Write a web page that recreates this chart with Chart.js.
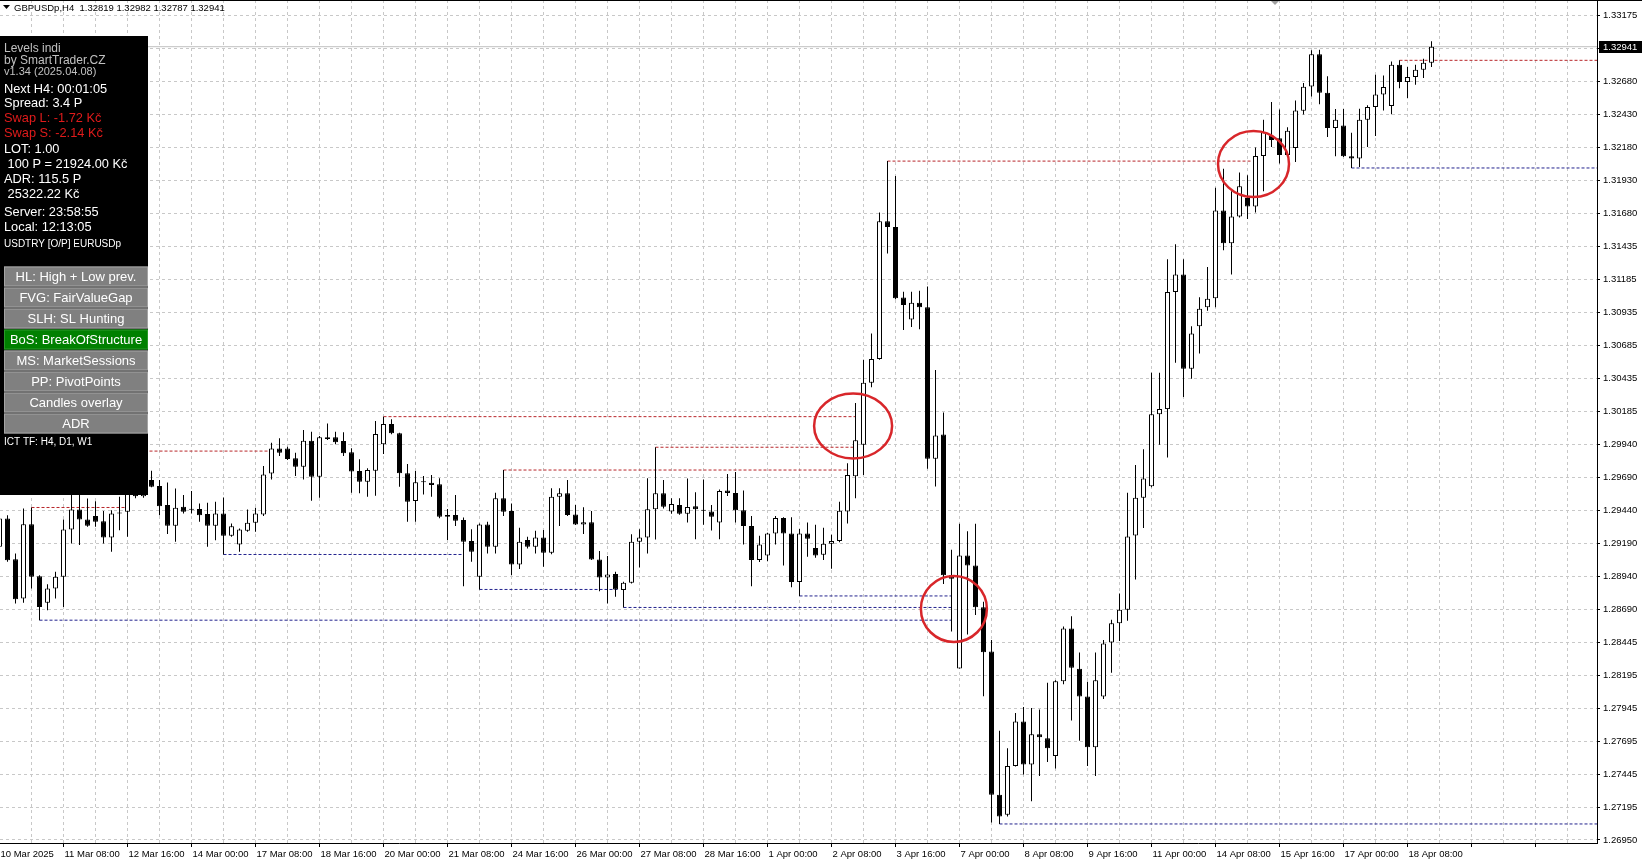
<!DOCTYPE html>
<html>
<head>
<meta charset="utf-8">
<script src="https://cdn.jsdelivr.net/npm/chart.js@4.4.1/dist/chart.umd.min.js"></script>
<style>
html, body { margin: 0; padding: 0; background: #fff; overflow: hidden; }
canvas { display: block; }
</style>
</head>
<body>
<canvas id="chartCandles" width="1642" height="865"></canvas>
<script>
var title = 'GBPUSDp,H4  1.32819 1.32982 1.32787 1.32941';

// labels of the time axis, one every 8 bars
var xLabels = ['10 Mar 2025', '11 Mar 08:00', '12 Mar 16:00', '14 Mar 00:00', '17 Mar 08:00', '18 Mar 16:00',
    '20 Mar 00:00', '21 Mar 08:00', '24 Mar 16:00', '26 Mar 00:00', '27 Mar 08:00', '28 Mar 16:00',
    '1 Apr 00:00', '2 Apr 08:00', '3 Apr 16:00', '7 Apr 00:00', '8 Apr 08:00', '9 Apr 16:00',
    '11 Apr 00:00', '14 Apr 08:00', '15 Apr 16:00', '17 Apr 00:00', '18 Apr 08:00'];

// price axis labels
var yTicks = [1.33175, 1.32925, 1.32680, 1.32430, 1.32180, 1.31930, 1.31680, 1.31435, 1.31185, 1.30935,
    1.30685, 1.30435, 1.30185, 1.29940, 1.29690, 1.29440, 1.29190, 1.28940, 1.28690, 1.28445,
    1.28195, 1.27945, 1.27695, 1.27445, 1.27195, 1.26950];

// H4 candles, 10 Mar 00:00 .. 18 Apr 20:00
var opens = [
    1.29164,1.29378,1.29071,1.28773,1.29335,1.28942,1.28741,1.28849,1.28937,1.29295,
    1.29446,1.29371,1.29396,1.29358,1.29235,1.29424,1.29429,1.29600,1.29545,1.29668,
    1.29623,1.29479,1.29323,1.29466,1.29446,1.29449,1.29411,1.29323,1.29416,1.29247,
    1.29182,1.29285,1.29345,1.29408,1.29718,1.29907,1.29907,1.29832,1.29769,1.29965,
    1.29693,1.29991,1.29991,1.29963,1.29878,1.29737,1.29656,1.29739,1.29938,1.30092,
    1.30021,1.29719,1.29510,1.29653,1.29648,1.29636,1.29404,1.29404,1.29366,1.29207,
    1.28937,1.29333,1.29165,1.29530,1.29434,1.29031,1.29215,1.29165,1.29235,1.29119,
    1.29543,1.29568,1.29409,1.29333,1.29349,1.29069,1.28933,1.28958,1.28837,1.28892,
    1.29202,1.29235,1.29447,1.29568,1.29431,1.29480,1.29414,1.29470,1.29438,1.29431,
    1.29348,1.29590,1.29570,1.29441,1.29321,1.29065,1.29099,1.29265,1.29381,1.29265,
    1.28899,1.29265,1.29155,1.29105,1.29188,1.29208,1.29431,1.29696,1.29935,1.30403,
    1.30582,1.31622,1.31579,1.31047,1.30881,1.31008,1.30974,1.29829,1.30012,1.28949,
    1.28245,1.29099,1.29022,1.28707,1.28373,1.27292,1.27140,1.27509,1.27844,1.27520,
    1.27749,1.27718,1.27585,1.28149,1.28548,1.28244,1.28034,1.27650,1.28034,1.28442,
    1.28586,1.28689,1.29249,1.29534,1.29622,1.30166,1.30204,1.31088,1.31221,1.30509,
    1.30829,1.30973,1.31042,1.31704,1.31457,1.31659,1.31799,1.31735,1.32115,1.32268,
    1.32249,1.32123,1.32175,1.32458,1.32641,1.32883,1.32594,1.32327,1.32345,1.32113,
    1.32096,1.32390,1.32486,1.32579,1.32493,1.32805,1.32674,1.32712,1.32767,1.32819];
var highs = [
    1.29416,1.29403,1.29114,1.29454,1.29461,1.28950,1.28882,1.28975,1.29371,1.29567,
    1.29555,1.29529,1.29509,1.29434,1.29441,1.29542,1.29618,1.29700,1.29720,1.29739,
    1.29668,1.29650,1.29605,1.29555,1.29585,1.29492,1.29497,1.29504,1.29537,1.29340,
    1.29303,1.29446,1.29459,1.29774,1.29950,1.29983,1.29920,1.29875,1.30046,1.30033,
    1.30001,1.30096,1.30033,1.30029,1.29908,1.29825,1.29757,1.30115,1.30147,1.30127,
    1.30026,1.29790,1.29737,1.29699,1.29706,1.29681,1.29449,1.29555,1.29386,1.29296,
    1.29341,1.29354,1.29573,1.29744,1.29492,1.29308,1.29240,1.29286,1.29291,1.29606,
    1.29606,1.29669,1.29480,1.29462,1.29434,1.29132,1.29094,1.28976,1.28900,1.29258,
    1.29296,1.29681,1.29916,1.29669,1.29530,1.29530,1.29680,1.29576,1.29673,1.29480,
    1.29597,1.29713,1.29729,1.29590,1.29397,1.29248,1.29271,1.29397,1.29387,1.29387,
    1.29298,1.29348,1.29331,1.29308,1.29255,1.29504,1.29796,1.30251,1.30576,1.30775,
    1.31688,1.32077,1.31964,1.31091,1.31091,1.31097,1.31130,1.30500,1.30178,1.29142,
    1.29338,1.29281,1.29338,1.28750,1.28461,1.27775,1.27642,1.27909,1.27955,1.27947,
    1.27935,1.28137,1.28156,1.28563,1.28640,1.28365,1.28145,1.28365,1.28461,1.28613,
    1.28811,1.29572,1.29782,1.29900,1.30478,1.30478,1.31335,1.31449,1.31335,1.30829,
    1.31049,1.31278,1.31876,1.32020,1.31849,1.31990,1.31971,1.32180,1.32390,1.32523,
    1.32466,1.32332,1.32534,1.32667,1.32915,1.32918,1.32717,1.32470,1.32470,1.32292,
    1.32473,1.32498,1.32729,1.32724,1.32830,1.32838,1.32787,1.32805,1.32850,1.32982];
var lows = [
    1.29139,1.29051,1.28736,1.28741,1.28849,1.28610,1.28685,1.28773,1.28710,1.29189,
    1.29177,1.29315,1.29315,1.29189,1.29126,1.29290,1.29240,1.29530,1.29535,1.29613,
    1.29403,1.29260,1.29202,1.29416,1.29416,1.29353,1.29164,1.29214,1.29106,1.29240,
    1.29126,1.29277,1.29277,1.29396,1.29673,1.29850,1.29819,1.29698,1.29673,1.29512,
    1.29534,1.29971,1.29938,1.29850,1.29573,1.29568,1.29543,1.29550,1.29865,1.30014,
    1.29618,1.29354,1.29354,1.29560,1.29543,1.29379,1.29215,1.29321,1.28867,1.29051,
    1.28842,1.29114,1.29114,1.29396,1.28950,1.28996,1.29152,1.29114,1.29013,1.29107,
    1.29321,1.29396,1.29328,1.29260,1.29064,1.28829,1.28736,1.28787,1.28706,1.28887,
    1.29008,1.29114,1.29220,1.29454,1.29414,1.29407,1.29348,1.29221,1.29331,1.29288,
    1.29221,1.29547,1.29348,1.29182,1.28866,1.29049,1.29055,1.29182,1.29022,1.28858,
    1.28793,1.29089,1.29082,1.29065,1.28999,1.29198,1.29341,1.29530,1.29706,1.30370,
    1.30576,1.31380,1.31034,1.30802,1.30825,1.30808,1.29753,1.29620,1.28883,1.28524,
    1.28245,1.28501,1.28650,1.28036,1.27082,1.27071,1.27128,1.27505,1.27444,1.27243,
    1.27433,1.27539,1.27490,1.28126,1.27852,1.27699,1.27509,1.27433,1.28015,1.28213,
    1.28453,1.28605,1.28917,1.29306,1.29614,1.29934,1.29839,1.30555,1.30296,1.30433,
    1.30623,1.30947,1.30973,1.31404,1.31221,1.31651,1.31640,1.31689,1.31849,1.32184,
    1.32058,1.32108,1.32070,1.32428,1.32565,1.32506,1.32259,1.32113,1.32108,1.32025,
    1.32033,1.32184,1.32267,1.32460,1.32430,1.32628,1.32553,1.32654,1.32704,1.32787];
var closes = [
    1.29378,1.29063,1.28768,1.29335,1.28937,1.28710,1.28849,1.28937,1.29295,1.29446,
    1.29371,1.29323,1.29353,1.29235,1.29416,1.29416,1.29567,1.29545,1.29660,1.29618,
    1.29471,1.29323,1.29459,1.29429,1.29444,1.29403,1.29323,1.29416,1.29247,1.29320,
    1.29295,1.29345,1.29416,1.29711,1.29907,1.29875,1.29827,1.29769,1.29965,1.29693,
    1.29991,1.29978,1.29953,1.29870,1.29732,1.29656,1.29744,1.30016,1.30092,1.30021,
    1.29719,1.29505,1.29651,1.29651,1.29631,1.29391,1.29391,1.29361,1.29202,1.29127,
    1.29333,1.29165,1.29530,1.29429,1.29031,1.29202,1.29165,1.29235,1.29119,1.29543,
    1.29568,1.29404,1.29333,1.29349,1.29069,1.28933,1.28955,1.28842,1.28892,1.29202,
    1.29235,1.29447,1.29568,1.29467,1.29487,1.29414,1.29464,1.29447,1.29437,1.29391,
    1.29586,1.29570,1.29441,1.29321,1.29065,1.29182,1.29265,1.29381,1.29265,1.28899,
    1.29265,1.29225,1.29099,1.29188,1.29208,1.29437,1.29706,1.29968,1.30403,1.30582,
    1.31622,1.31579,1.31041,1.30991,1.31008,1.30974,1.29829,1.30005,1.28949,1.28923,
    1.29099,1.29022,1.28707,1.28368,1.27292,1.27128,1.27509,1.27844,1.27520,1.27749,
    1.27726,1.27642,1.28149,1.28548,1.28251,1.28034,1.27650,1.28156,1.28434,1.28586,
    1.28689,1.29241,1.29534,1.29679,1.30166,1.30204,1.31088,1.31221,1.30509,1.30775,
    1.30962,1.31038,1.31704,1.31457,1.31659,1.31887,1.31735,1.32115,1.32294,1.32237,
    1.32123,1.32306,1.32459,1.32638,1.32884,1.32594,1.32327,1.32390,1.32113,1.32096,
    1.32390,1.32486,1.32579,1.32636,1.32805,1.32674,1.32712,1.32767,1.32819,1.32941];

// BoS levels (price, first bar, last bar, kind)
var levelPrices = [1.29461, 1.29887, 1.30147, 1.29744, 1.29916, 1.32077, 1.32838,
    1.28610, 1.29106, 1.28706, 1.28842, 1.28793, 1.27071, 1.32025];
var levelFrom = [4, 10, 48, 63, 82, 111, 175, 5, 28, 78, 60, 100, 125, 169];
var levelTo = [16, 33.5, 107, 106, 107, 156.5, 200, 119, 58, 119, 77.4, 119, 200, 200];
var levelKinds = ['high', 'high', 'high', 'high', 'high', 'high', 'high',
    'low', 'low', 'low', 'low', 'low', 'low', 'low'];

// red marks drawn by hand on the screenshot (bar, price)
var markBars = [106.7, 119.3, 156.75];
var markPrices = [1.30077, 1.28695, 1.32055];

var panelLines = ['Levels indi', 'by SmartTrader.CZ', 'v1.34 (2025.04.08)', 'Next H4: 00:01:05', 'Spread: 3.4 P',
    'Swap L: -1.72 Kč', 'Swap S: -2.14 Kč', 'LOT: 1.00', ' 100 P = 21924.00 Kč', 'ADR: 115.5 P',
    ' 25322.22 Kč', 'Server: 23:58:55', 'Local: 12:13:05', 'USDTRY [O/P] EURUSDp'];
var panelButtons = ['HL: High + Low prev.', 'FVG: FairValueGap', 'SLH: SL Hunting', 'BoS: BreakOfStructure',
    'MS: MarketSessions', 'PP: PivotPoints', 'Candles overlay', 'ADR'];
var panelFooter = 'ICT TF: H4, D1, W1';

var AXISFONT = '"Liberation Sans", Arial, sans-serif';
var ARIAL = '"Liberation Sans", Arial, sans-serif';
var xMin = 0.0625, xMax = 199.6875;
var lastClose = closes[closes.length - 1];

function makeit() {
    var bodies = [], wicks = [], fills = [];
    opens.forEach(function(o, i) {
        bodies.push({x: i, y: [o, closes[i]]});
        wicks.push({x: i, y: [lows[i], highs[i]]});
        fills.push(closes[i] >= o ? '#ffffff' : '#000000');
    });

    var datasets = [{
        type: 'bar', data: bodies, backgroundColor: fills, borderColor: '#000000', borderWidth: 1,
        borderSkipped: false, barThickness: 5, grouped: false, minBarLength: 1, inflateAmount: 0, order: 0
    }, {
        type: 'bar', data: wicks, backgroundColor: '#000000', borderWidth: 0,
        barThickness: 1, grouped: false, inflateAmount: 0, order: 1
    }, {
        type: 'line', data: [{x: xMin, y: lastClose}, {x: xMax, y: lastClose}],
        borderColor: '#c0c0c0', borderWidth: 1, pointRadius: 0, order: 3
    }];
    levelPrices.forEach(function(p, i) {
        datasets.push({
            type: 'line',
            data: [{x: levelFrom[i], y: p}, {x: Math.min(levelTo[i], xMax), y: p}],
            borderColor: levelKinds[i] == 'high' ? '#b8262a' : '#22228e',
            borderWidth: 1, borderDash: [3, 2], pointRadius: 0, order: 2
        });
    });

    var gridBars = [];
    for (var b = 0; b <= 196; b += 4) gridBars.push(b);

    var overlay = {
        id: 'overlay',
        afterDatasetsDraw: function(chart) {
            var ctx = chart.ctx, sx = chart.scales.x, sy = chart.scales.y;
            var rx = [39, 33, 35.5], ry = [32.5, 33, 33];
            ctx.save();
            ctx.strokeStyle = '#d8262a';
            ctx.lineWidth = 2.5;
            markBars.forEach(function(mb, i) {
                ctx.beginPath();
                ctx.ellipse(sx.getPixelForValue(mb), sy.getPixelForValue(markPrices[i]), rx[i], ry[i], 0, 0, Math.PI * 2);
                ctx.stroke();
            });
            ctx.restore();
        },
        afterDraw: function(chart) {
            var ctx = chart.ctx, sy = chart.scales.y;
            ctx.save();
            // top frame and shift marker
            ctx.fillStyle = '#000';
            ctx.fillRect(0, 0, 1642, 1);
            ctx.fillStyle = '#a0a0a0';
            ctx.beginPath(); ctx.moveTo(1271, 1); ctx.lineTo(1279, 1); ctx.lineTo(1275, 5); ctx.fill();

            // title
            ctx.fillStyle = '#000';
            ctx.beginPath(); ctx.moveTo(3, 5); ctx.lineTo(10, 5); ctx.lineTo(6.5, 9); ctx.fill();
            ctx.font = '9.5px ' + AXISFONT;
            ctx.textBaseline = 'middle';
            ctx.textAlign = 'left';
            ctx.fillText(title, 14, 8.5);

            // current price box
            var py = sy.getPixelForValue(lastClose);
            ctx.fillStyle = '#000';
            ctx.fillRect(1599, Math.round(py) - 6, 43, 12);
            ctx.fillStyle = '#fff';
            ctx.fillText(lastClose.toFixed(5), 1603, Math.round(py) + 0.5);

            // info panel
            ctx.fillStyle = '#000';
            ctx.fillRect(0, 36, 148, 459);
            var ys = [48.7, 60.8, 71.7, 89.7, 103.8, 118.8, 133.8, 149, 164, 179, 194, 212, 227.7, 244.5];
            panelLines.forEach(function(t, i) {
                var size = i < 2 ? 12 : (i == 2 ? 11 : (i == 13 ? 10 : 12.8));
                ctx.font = size + 'px ' + ARIAL;
                ctx.fillStyle = i < 3 ? '#c0c0c0' : (i == 5 || i == 6 ? '#e01b1b' : '#ffffff');
                ctx.fillText(t, 4, ys[i]);
            });
            panelButtons.forEach(function(t, i) {
                var top = 266.5 + 21 * i;
                ctx.fillStyle = i == 3 ? '#008000' : '#808080';
                ctx.fillRect(4, top, 144, 20);
                ctx.strokeStyle = i == 3 ? '#2a9a2a' : '#a4a4a4';
                ctx.lineWidth = 1;
                ctx.strokeRect(4.5, top + 0.5, 143, 19);
                ctx.fillStyle = '#fff';
                ctx.font = '13px ' + ARIAL;
                ctx.textAlign = 'center';
                ctx.fillText(t, 76, top + 10.5);
                ctx.textAlign = 'left';
            });
            ctx.font = '10px ' + ARIAL;
            ctx.fillStyle = '#fff';
            ctx.fillText(panelFooter, 4, 442.5);
            ctx.restore();
        }
    };

    var chart = new Chart(document.getElementById('chartCandles').getContext('2d'), {
        type: 'bar',
        data: { datasets: datasets },
        options: {
            responsive: false,
            animation: false,
            devicePixelRatio: 1,
            layout: { padding: 0 },
            plugins: { legend: { display: false }, tooltip: { enabled: false } },
            scales: {
                x: {
                    type: 'linear', min: xMin, max: xMax, offset: false, position: 'bottom',
                    afterBuildTicks: function(s) { s.ticks = gridBars.map(function(v) { return {value: v}; }); },
                    afterFit: function(s) { s.height = 22; s.paddingLeft = 0; s.paddingRight = 0; },
                    grid: {
                        offset: false, lineWidth: 1, tickLength: 4, tickBorderDash: [],
                        color: function(c) { return c.tick && c.tick.value === 0 ? 'rgba(0,0,0,0)' : '#c8c8c8'; },
                        tickColor: function(c) { return c.tick && c.tick.value % 8 === 0 ? '#000' : 'rgba(0,0,0,0)'; }
                    },
                    border: { display: true, color: '#000', width: 1, dash: [3, 3] },
                    ticks: {
                        autoSkip: false, maxRotation: 0, minRotation: 0, align: 'start', labelOffset: 1,
                        padding: 2, color: '#000', font: { family: AXISFONT, size: 9.5 },
                        callback: function(v) { return v % 8 === 0 && v / 8 < xLabels.length ? xLabels[v / 8] : ''; }
                    }
                },
                y: {
                    type: 'linear', position: 'right', min: 1.269272, max: 1.332936,
                    afterBuildTicks: function(s) { s.ticks = yTicks.map(function(v) { return {value: v}; }); },
                    afterFit: function(s) { s.width = 45; s.paddingTop = 0; s.paddingBottom = 0; },
                    grid: { color: '#c8c8c8', lineWidth: 1, tickLength: 3, tickColor: '#000', tickBorderDash: [] },
                    border: { display: true, color: '#000', width: 1, dash: [3, 3] },
                    ticks: {
                        padding: 3, color: '#000', font: { family: AXISFONT, size: 9.5 },
                        callback: function(v) { return Math.abs(v - lastClose) < 0.0004 ? '' : v.toFixed(5); }
                    }
                }
            }
        },
        plugins: [overlay]
    });
}
makeit();
</script>
</body>
</html>
